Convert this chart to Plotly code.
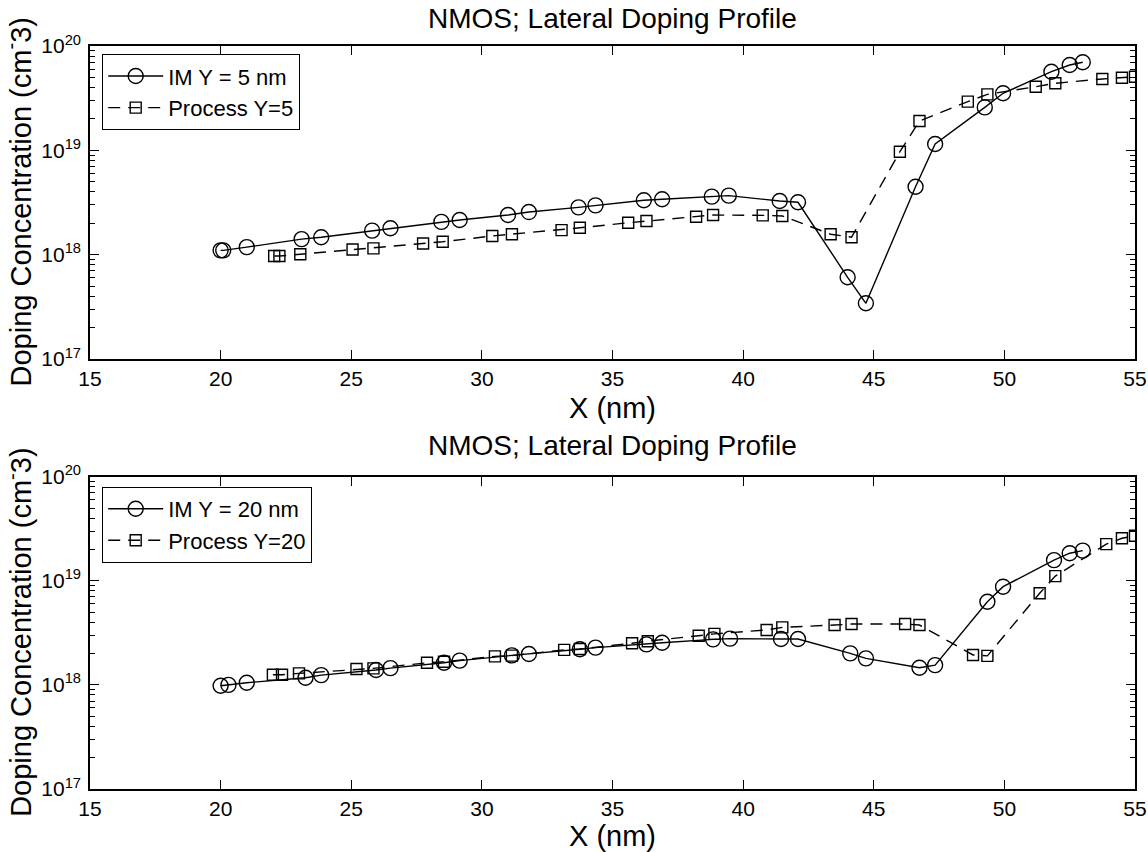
import plotly.graph_objects as go

# ---------------- data ----------------
# Top panel (Y = 5 nm)
im5_x = [20.0, 20.1, 21.0, 23.1, 23.85, 25.8, 26.5, 28.45, 29.15, 31.0, 31.8, 33.7, 34.35,
         36.2, 36.9, 38.8, 39.45, 41.4, 42.1, 44.0, 44.7, 46.6, 47.35, 49.25, 49.95,
         51.8, 52.5, 53.0]
im5_y = [1.10e18, 1.10e18, 1.18e18, 1.41e18, 1.47e18, 1.70e18, 1.79e18, 2.06e18, 2.15e18,
         2.40e18, 2.56e18, 2.84e18, 2.97e18, 3.32e18, 3.40e18, 3.60e18, 3.68e18, 3.27e18,
         3.18e18, 6.07e17, 3.42e17, 4.48e18, 1.15e19, 2.58e19, 3.52e19, 5.67e19, 6.58e19,
         6.98e19]

proc5_x = [22.05, 22.25, 23.05, 25.05, 25.85, 27.75, 28.5, 30.4, 31.15, 33.05, 33.75, 35.6,
           36.3, 38.2, 38.85, 40.75, 41.5, 43.35, 44.15, 46.0, 46.75, 48.6, 49.35, 51.2,
           51.95, 53.75, 54.5, 55.0]
proc5_y = [9.7e17, 9.7e17, 1.01e18, 1.12e18, 1.15e18, 1.28e18, 1.33e18, 1.51e18, 1.57e18,
           1.72e18, 1.81e18, 2.02e18, 2.10e18, 2.31e18, 2.40e18, 2.38e18, 2.35e18, 1.57e18,
           1.47e18, 9.7e18, 1.91e19, 2.93e19, 3.44e19, 4.07e19, 4.39e19, 4.83e19, 4.97e19,
           5.08e19]

# Bottom panel (Y = 20 nm)
im20_x = [20.0, 20.3, 21.0, 23.25, 23.85, 25.95, 26.5, 28.55, 29.15, 31.15, 31.8, 33.75,
          34.35, 36.3, 36.9, 38.85, 39.5, 41.45, 42.1, 44.1, 44.7, 46.75, 47.35, 49.35,
          49.95, 51.9, 52.5, 53.0]
im20_y = [9.8e17, 1.0e18, 1.05e18, 1.17e18, 1.24e18, 1.39e18, 1.45e18, 1.63e18, 1.71e18,
          1.92e18, 1.98e18, 2.20e18, 2.28e18, 2.45e18, 2.54e18, 2.74e18, 2.78e18, 2.76e18,
          2.76e18, 2.01e18, 1.80e18, 1.46e18, 1.55e18, 6.30e18, 8.78e18, 1.58e19, 1.84e19,
          1.95e19]

proc20_x = [22.0, 22.35, 23.0, 25.2, 25.85, 27.9, 28.55, 30.5, 31.15, 33.15, 33.75, 35.75,
            36.35, 38.3, 38.9, 40.9, 41.5, 43.5, 44.15, 46.2, 46.75, 48.8, 49.35, 51.35,
            51.95, 53.9, 54.5, 55.0]
proc20_y = [1.25e18, 1.25e18, 1.29e18, 1.42e18, 1.44e18, 1.63e18, 1.67e18, 1.88e18, 1.91e18,
            2.17e18, 2.21e18, 2.51e18, 2.63e18, 2.97e18, 3.09e18, 3.37e18, 3.57e18, 3.76e18,
            3.84e18, 3.84e18, 3.76e18, 1.94e18, 1.90e18, 7.59e18, 1.11e19, 2.25e19, 2.56e19,
            2.71e19]

x_ticks = [15, 20, 25, 30, 35, 40, 45, 50, 55]
y_major = [1e17, 1e18, 1e19, 1e20]
y_major_text = ["10<sup>17</sup>", "10<sup>18</sup>", "10<sup>19</sup>", "10<sup>20</sup>"]
y_minor = [m * 10.0 ** e for e in (17, 18, 19) for m in range(2, 10)]

title_text = "NMOS; Lateral Doping Profile"
xlabel = "X (nm)"
ylabel = "Doping Concentration (cm<sup>-</sup>3)"

# ---------------- figure ----------------
FONT = "Liberation Sans, Arial, Helvetica, sans-serif"
W, H = 1148, 852
ML, MR, MT, MB = 90, 13, 46, 63
PH = H - MT - MB
PW = W - ML - MR

def py(pix):  # page pixel (y) -> paper fraction
    return (H - MB - pix) / PH

def px(pix):  # page pixel (x) -> paper fraction
    return (pix - ML) / PW

solid = dict(color="black", width=1.4)
dashed = dict(color="black", width=1.4, dash="12px,8px")
circ = dict(symbol="circle-open", size=15, color="black", line=dict(width=1.4, color="black"))
sq = dict(symbol="square-open", size=11, color="black", line=dict(width=1.4, color="black"))

fig = go.Figure()
fig.add_trace(go.Scatter(x=im5_x, y=im5_y, mode="lines+markers", name="IM Y = 5 nm",
                         line=solid, marker=circ, xaxis="x", yaxis="y", legend="legend"))
fig.add_trace(go.Scatter(x=proc5_x, y=proc5_y, mode="lines+markers", name="Process Y=5",
                         line=dashed, marker=sq, xaxis="x", yaxis="y", legend="legend"))
fig.add_trace(go.Scatter(x=im20_x, y=im20_y, mode="lines+markers", name="IM Y = 20 nm",
                         line=solid, marker=circ, xaxis="x2", yaxis="y2", legend="legend2"))
fig.add_trace(go.Scatter(x=proc20_x, y=proc20_y, mode="lines+markers", name="Process Y=20",
                         line=dashed, marker=sq, xaxis="x2", yaxis="y2", legend="legend2"))

top_dom = [py(359), 1.0]
bot_dom = [0.0, py(476.7)]

xax = dict(range=[15, 55], tickmode="array", tickvals=x_ticks, ticks="inside", ticklen=9,
           tickwidth=1.2, tickcolor="black", showline=True, linecolor="black", linewidth=1.6,
           mirror="allticks", showgrid=False, zeroline=False,
           tickfont=dict(family=FONT, size=21, color="black"), domain=[0, 1])
yax = dict(type="log", range=[17, 20], tickmode="array", tickvals=y_major, ticktext=y_major_text,
           ticks="inside", ticklen=9, tickwidth=1.2, tickcolor="black", showline=True,
           linecolor="black", linewidth=1.6, mirror="allticks", showgrid=False, zeroline=False,
           ticklabelstandoff=3,
           tickfont=dict(family=FONT, size=21, color="black"),
           minor=dict(tickmode="array", tickvals=y_minor, ticks="inside", ticklen=5,
                      tickwidth=1.0, tickcolor="black", showgrid=False))

leg_common = dict(xanchor="left", yanchor="top", bgcolor="white", bordercolor="black",
                  borderwidth=1.2, font=dict(family=FONT, size=22, color="black"),
                  tracegroupgap=0, itemwidth=55)

fig.update_layout(
    width=W, height=H, margin=dict(l=ML, r=MR, t=MT, b=MB, autoexpand=False),
    paper_bgcolor="white", plot_bgcolor="white",
    font=dict(family=FONT, color="black"),
    xaxis=dict(xax, anchor="y"),
    yaxis=dict(yax, anchor="x", domain=top_dom),
    xaxis2=dict(xax, anchor="y2"),
    yaxis2=dict(yax, anchor="x2", domain=bot_dom),
    legend=dict(leg_common, x=px(102), y=py(54)),
    legend2=dict(leg_common, x=px(102), y=py(486.7)),
    showlegend=True,
)

ann = []
for yc in (19, 446):
    ann.append(dict(text=title_text, x=0.5, y=py(yc), xref="paper", yref="paper",
                    xanchor="center", yanchor="middle", showarrow=False,
                    font=dict(family=FONT, size=28, color="black")))
for yc in (408, 836):
    ann.append(dict(text=xlabel, x=0.5, y=py(yc), xref="paper", yref="paper",
                    xanchor="center", yanchor="middle", showarrow=False,
                    font=dict(family=FONT, size=29, color="black")))
for dom in (top_dom, bot_dom):
    ann.append(dict(text=ylabel, x=px(19), y=(dom[0] + dom[1]) / 2, xref="paper", yref="paper",
                    xanchor="center", yanchor="middle", textangle=-90, showarrow=False,
                    font=dict(family=FONT, size=29, color="black")))
fig.update_layout(annotations=ann)

fig.write_html("out.html",
               config={"displayModeBar": False},
               post_script="document.body.style.margin='0px';"
                           "document.body.style.overflow='hidden';")
